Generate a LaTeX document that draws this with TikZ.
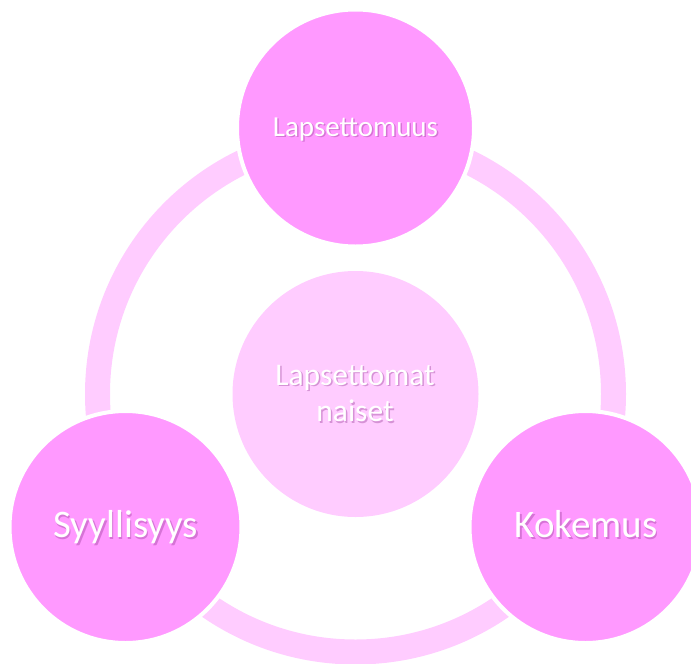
\documentclass[tikz,border=0pt]{standalone}
\usepackage{fontspec}
\setmainfont{Carlito}
\definecolor{circlepink}{HTML}{FF99FF}
\definecolor{lightpink}{HTML}{FFCCFF}
\definecolor{shadowpink}{HTML}{9A3C9A}
\tikzset{
  outer/.style={circle, inner sep=0pt, fill=circlepink, draw=white, line width=4pt},
  inner/.style={circle, inner sep=0pt, fill=lightpink},
  ringstyle/.style={circle, inner sep=0pt, draw=lightpink, line width=25pt},
  lbl/.style={text=white, inner sep=0pt},
  lblshadow/.style={text=shadowpink, opacity=0.4, inner sep=0pt},
}
\begin{document}
\begin{tikzpicture}[x=1pt,y=-1pt]
\useasboundingbox (0,0) rectangle (691,664);
\clip (0,0) rectangle (691,664);
% ring
\node[ringstyle, minimum size=516pt] (ring) at (355.5,394) {};
% centre circle
\node[inner, minimum size=246pt] (centre) at (355.5,394) {};
% outer circles
\node[outer, minimum size=237pt] (top) at (355.5,128) {};
\node[outer, minimum size=232pt] (left) at (125.5,527) {};
\node[outer, minimum size=232pt] (right) at (585.5,527) {};
% labels (shadows first)
\node[lblshadow, anchor=base, font=\fontsize{29}{34}\selectfont] (topsh) at (357,137.5) {Lapsettomuus};
\node[lbl, anchor=base, font=\fontsize{29}{34}\selectfont] (toplbl) at (355.5,136) {Lapsettomuus};
\node[lblshadow, align=center, font=\fontsize{31.5}{36.7}\selectfont] (censh) at (356.5,395) {Lapsettomat\\naiset};
\node[lbl, align=center, font=\fontsize{31.5}{36.7}\selectfont] (cenlbl) at (355,393.5) {Lapsettomat\\naiset};
\node[lblshadow, anchor=base, font=\fontsize{39}{45}\selectfont] (leftsh) at (127.3,539) {Syyllisyys};
\node[lbl, anchor=base, font=\fontsize{39}{45}\selectfont] (leftlbl) at (125.8,537.3) {Syyllisyys};
\node[lblshadow, anchor=base, font=\fontsize{39}{45}\selectfont] (rightsh) at (587.5,539) {Kokemus};
\node[lbl, anchor=base, font=\fontsize{39}{45}\selectfont] (rightlbl) at (586,537.3) {Kokemus};
\end{tikzpicture}
\end{document}
